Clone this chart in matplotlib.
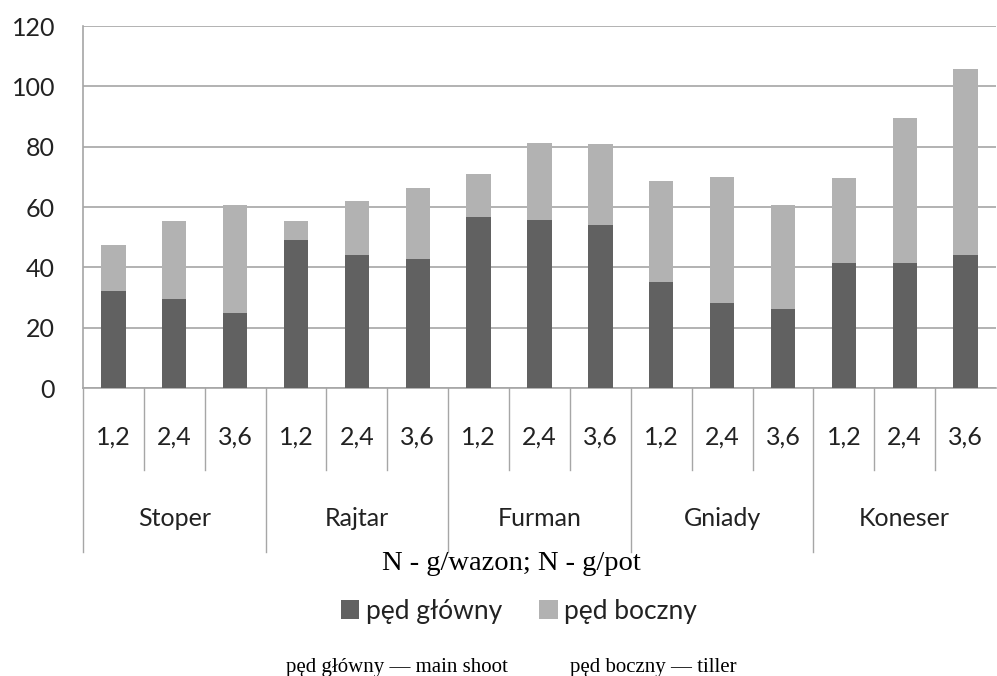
import matplotlib.pyplot as plt
import matplotlib.transforms as mtransforms
import numpy as np

groups = ['Stoper', 'Rajtar', 'Furman', 'Gniady', 'Koneser']
n_levels = ['1,2', '2,4', '3,6']
main_shoot = [32, 29.6, 24.8, 49, 44.2, 42.8, 56.8, 55.6, 54.1, 35.2, 28.2, 26.3, 41.3, 41.3, 44.2]
totals = [47.4, 55.5, 60.7, 55.5, 62, 66.3, 71, 81.3, 80.9, 68.6, 70, 60.7, 69.6, 89.4, 105.8]
tiller = [t - m for t, m in zip(totals, main_shoot)]

dark = '#616161'
light = '#b2b2b2'
grid_c = '#a6a6a6'
txt = '#222222'
fs = 18

fig = plt.figure(figsize=(9.97, 6.76), dpi=100)
ax = fig.add_axes([83 / 997, 1 - 388 / 676, 913 / 997, 362 / 676])

x = np.arange(len(main_shoot))
width = 0.4
ax.bar(x, main_shoot, width, color=dark, label='pęd główny', zorder=3)
ax.bar(x, tiller, width, bottom=main_shoot, color=light, label='pęd boczny', zorder=3)

ax.set_xlim(-0.5, len(x) - 0.5)
ax.set_ylim(0, 120)
ax.set_yticks(range(0, 121, 20))
ax.yaxis.grid(True, color=grid_c, linewidth=1.2, zorder=0)
ax.tick_params(axis='y', length=0, pad=20, labelsize=fs, labelcolor=txt)
for lab in ax.get_yticklabels():
    lab.set_fontfamily('Lato')
ax.set_xticks([])
for s in ['top', 'right']:
    ax.spines[s].set_visible(False)
for s in ['bottom', 'left']:
    ax.spines[s].set_color(grid_c)
    ax.spines[s].set_linewidth(1.2)

trans = mtransforms.blended_transform_factory(ax.transData, ax.transAxes)
lvl_bottom = -(470 - 388) / 362
grp_bottom = -(552 - 388) / 362

# two-level category axis
for i in range(len(x)):
    if i % 3 != 0:
        ax.plot([i - 0.5, i - 0.5], [0, lvl_bottom], transform=trans, color=grid_c,
                linewidth=1, clip_on=False)
    ax.text(i, -(437 - 388) / 362, n_levels[i % 3], transform=trans, ha='center',
            va='center', fontsize=fs, color=txt, family='Lato')
for g, name in enumerate(groups):
    ax.plot([g * 3 - 0.5, g * 3 - 0.5], [0, grp_bottom], transform=trans, color=grid_c,
            linewidth=1, clip_on=False)
    ax.text(g * 3 + 1, -(519 - 388) / 362, name, transform=trans, ha='center',
            va='center', fontsize=fs, color=txt, family='Lato')

fig.text(511 / 997, 1 - 570 / 676, 'N - g/wazon; N - g/pot', ha='center', va='baseline',
         fontsize=20.5, family='Liberation Serif', color='black')

fig.legend(loc='center', bbox_to_anchor=(519 / 997, 1 - 611 / 676), ncol=2, frameon=False,
           prop={'family': 'Lato', 'size': 19}, handlelength=0.7, handleheight=0.7,
           handletextpad=0.25, columnspacing=1.4, labelcolor=txt)

fig.text(397 / 997, 1 - 672 / 676, 'pęd główny — main shoot', ha='center', va='baseline',
         fontsize=15, family='Liberation Serif', color='black')
fig.text(653 / 997, 1 - 672 / 676, 'pęd boczny — tiller', ha='center', va='baseline',
         fontsize=15, family='Liberation Serif', color='black')

fig.savefig('out.png', dpi=100)
